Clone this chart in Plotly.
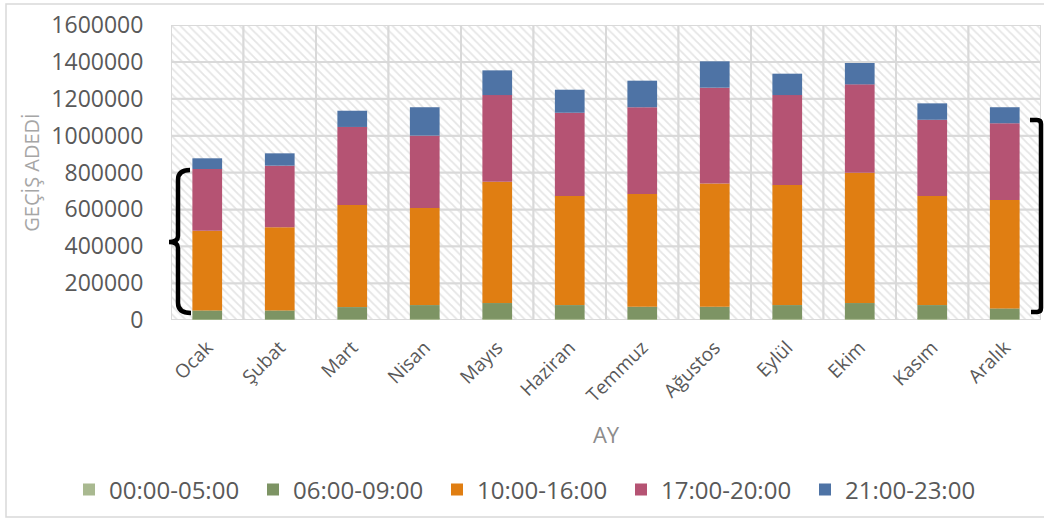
import numpy as np
import plotly.graph_objects as go

months = ["Ocak", "Şubat", "Mart", "Nisan", "Mayıs", "Haziran", "Temmuz",
          "Ağustos", "Eylül", "Ekim", "Kasım", "Aralık"]

s_00_05 = [4000, 4000, 5000, 6000, 6000, 6000, 5000, 5000, 6000, 6000, 6000, 5000]
s_06_09 = [48000, 48000, 65000, 75000, 86000, 75000, 67000, 67000, 75000, 86000, 75000, 58000]
s_10_16 = [432000, 451000, 554000, 526000, 658000, 591000, 611000, 669000, 651000, 707000, 591000, 588000]
s_17_20 = [335000, 334000, 423000, 393000, 470000, 452000, 471000, 519000, 488000, 479000, 414000, 416000]
s_21_23 = [58000, 67000, 88000, 154000, 134000, 125000, 144000, 143000, 116000, 116000, 89000, 87000]

series_names = ["00:00-05:00", "06:00-09:00", "10:00-16:00", "17:00-20:00", "21:00-23:00"]
series_vals = [s_00_05, s_06_09, s_10_16, s_17_20, s_21_23]
series_colors = ["#a9b990", "#7d9464", "#e07e12", "#b55373", "#4e73a5"]

y_ticks = [0, 200000, 400000, 600000, 800000, 1000000, 1200000, 1400000, 1600000]

W, H = 1044, 520
ML, MR, MT, MB = 171, 3, 25, 200
PW, PH = W - ML - MR, H - MT - MB

fig = go.Figure()

# hatched background bands (grid cells)
step = y_ticks[1] - y_ticks[0]
for lvl in y_ticks[:-1]:
    fig.add_trace(go.Bar(
        x=months, y=[step] * len(months), base=[lvl] * len(months), width=1,
        marker=dict(color="white", line=dict(color="#d9d9d9", width=2),
                    pattern=dict(shape="\\", fgcolor="#cccccc", bgcolor="white",
                                 size=6, solidity=0.3)),
        showlegend=False, hoverinfo="skip"))

base = np.zeros(len(months))
for name, vals, col in zip(series_names, series_vals, series_colors):
    v = np.array(vals, dtype=float)
    fig.add_trace(go.Bar(x=months, y=v, base=base.copy(), name=name, width=0.41,
                         marker=dict(color=col, line=dict(width=0))))
    base = base + v


def p(x, y):
    return f"{(x - ML) / PW:.5f},{(H - MB - y) / PH:.5f}"


left_br = (f"M {p(190,170)} Q {p(178,170)} {p(178,180)} L {p(178,236)} "
           f"Q {p(178,242)} {p(169,242)} Q {p(178,242)} {p(178,248)} L {p(178,303)} "
           f"Q {p(178,313)} {p(191,313)}")
right_br = (f"M {p(1030,120)} L {p(1037,120)} Q {p(1041,120)} {p(1041,124)} L {p(1041,308)} "
            f"Q {p(1041,312)} {p(1037,312)} L {p(1031,312)}")

shapes = [
    dict(type="path", xref="paper", yref="paper", path=left_br,
         line=dict(color="black", width=4.5), layer="above"),
    dict(type="path", xref="paper", yref="paper", path=right_br,
         line=dict(color="black", width=4.5), layer="above"),
    dict(type="rect", xref="paper", yref="paper",
         x0=(6 - ML) / PW, x1=(1050 - ML) / PW, y0=(H - MB - 517) / PH, y1=(H - MB - 4) / PH,
         line=dict(color="#d9d9d9", width=1.5), layer="below"),
]

font_fam = "Open Sans"
fig.update_layout(
    width=W, height=H, barmode="overlay",
    margin=dict(l=ML, r=MR, t=MT, b=MB, autoexpand=False),
    paper_bgcolor="white", plot_bgcolor="white",
    font=dict(family=font_fam, color="#595959"),
    shapes=shapes,
    showlegend=True,
    legend=dict(orientation="h", x=(69 - ML) / PW, xanchor="left", y=(H - MB - 490) / PH,
                yanchor="middle", font=dict(size=24, color="#595959", family=font_fam),
                traceorder="normal", itemwidth=30, entrywidth=139, entrywidthmode="pixels"),
    xaxis=dict(range=[-0.5, len(months) - 0.5], showgrid=False, zeroline=False,
               showline=False, tickangle=-45, ticks="outside", ticklen=8,
               tickcolor="rgba(0,0,0,0)", tickfont=dict(size=19, color="#595959"),
               title=dict(text="AY", font=dict(size=22, color="#8c8c8c"), standoff=20),
               automargin=False),
    yaxis=dict(range=[0, 1600000], tickvals=y_ticks, ticktext=[str(t) for t in y_ticks],
               showgrid=False, zeroline=False, showline=False, ticks="outside", ticklen=22,
               tickcolor="rgba(0,0,0,0)", tickfont=dict(size=23, color="#595959"),
               title=dict(text="GEÇİŞ ADEDİ", font=dict(size=20, color="#a6a6a6"), standoff=6),
               automargin=False),
)

fig.write_html("out.html")
